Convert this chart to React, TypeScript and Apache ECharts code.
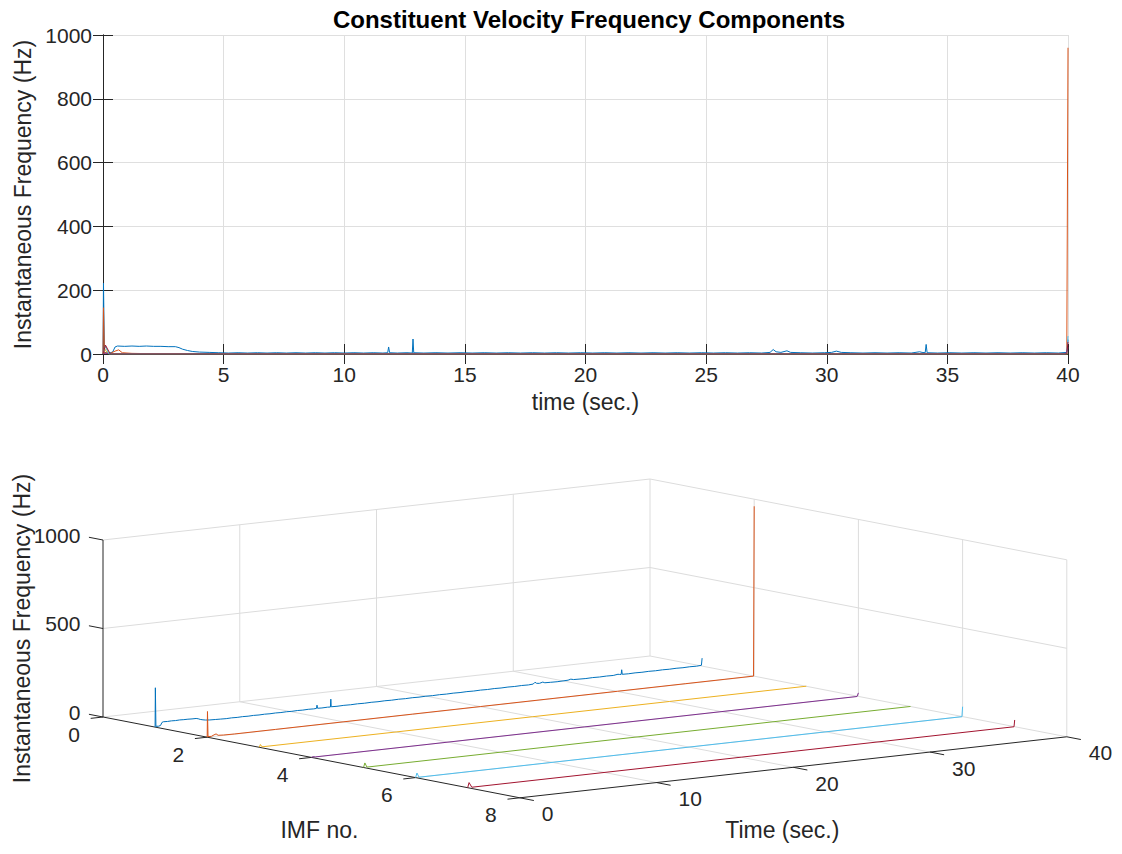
import React, { useEffect, useRef } from "react";
import * as echarts from "echarts";

// ---------------- data ----------------
const IMF_NAMES = ["IMF 1", "IMF 2", "IMF 3", "IMF 4", "IMF 5", "IMF 6", "IMF 7"];
const IMF_NUMBERS = [1, 2, 3, 4, 5, 6, 7];
const IMF_COLORS = ["#0072BD", "#D95319", "#EDB120", "#7E2F8E", "#77AC30", "#4DBEEE", "#A2142F"];

// [time (s), instantaneous frequency (Hz)]
const IMF1: [number, number][] = [
  [0, 0], [0.02, 222], [0.06, 4], [0.25, 3], [0.4, 6], [0.5, 22], [0.6, 25], [0.9, 24], [1.2, 25],
  [1.5, 24], [1.8, 25], [2.1, 24], [2.4, 24], [2.7, 23], [3.0, 23], [3.15, 20], [3.3, 15], [3.5, 11],
  [3.7, 8], [4.0, 6], [4.4, 5], [4.8, 4], [5.2, 3], [5.6, 4], [6.0, 3], [6.4, 4], [6.8, 3], [7.2, 4],
  [7.6, 3], [8.0, 4], [8.4, 3], [8.8, 4], [9.2, 3], [9.6, 4], [10.0, 3], [10.4, 4], [10.8, 3],
  [11.2, 4], [11.6, 3], [11.8, 4], [11.84, 22], [11.88, 4], [12.2, 3], [12.6, 4], [12.82, 3],
  [12.85, 47], [12.88, 4], [13.3, 3], [13.8, 4], [14.3, 3], [14.8, 4], [15.3, 3], [15.8, 4],
  [16.3, 3], [16.8, 4], [17.3, 3], [17.8, 4], [18.3, 3], [18.8, 4], [19.3, 3], [19.8, 4], [20.3, 3],
  [20.8, 4], [21.3, 3], [21.8, 4], [22.3, 3], [22.8, 4], [23.3, 3], [23.8, 4], [24.3, 3], [24.8, 4],
  [25.3, 3], [25.8, 4], [26.3, 3], [26.8, 4], [27.3, 3], [27.65, 5], [27.78, 14], [27.9, 7],
  [28.1, 5], [28.35, 10], [28.5, 5], [28.9, 4], [29.4, 3], [29.9, 4], [30.2, 5], [30.4, 9],
  [30.6, 5], [31.0, 4], [31.5, 3], [32.0, 4], [32.5, 3], [33.0, 4], [33.5, 3], [33.85, 7],
  [33.95, 5], [34.08, 4], [34.12, 30], [34.16, 4], [34.6, 3], [35.1, 4], [35.6, 3], [36.1, 4],
  [36.6, 3], [37.1, 4], [37.6, 3], [38.1, 4], [38.6, 3], [39.1, 4], [39.6, 3], [39.95, 5], [40, 45],
];
const IMF2: [number, number][] = [
  [0, 0], [0.02, 145], [0.06, 3], [0.3, 2], [0.5, 9], [0.65, 13], [0.8, 4], [1.2, 2], [2, 1],
  [5, 1], [10, 1], [15, 1], [20, 1], [25, 1], [30, 1], [35, 1], [39.95, 1], [40, 960],
];
const IMF3: [number, number][] = [
  [0, 0], [0.08, 15], [0.2, 1], [10, 0.5], [20, 0.5], [30, 0.5], [40, 0.5],
];
const IMF4: [number, number][] = [
  [0, 0], [0.1, 3], [0.3, 0.3], [20, 0.3], [39.9, 0.3], [40, 20],
];
const IMF5: [number, number][] = [
  [0, 0], [0.1, 25], [0.25, 0.2], [20, 0.2], [40, 0.2],
];
const IMF6: [number, number][] = [
  [0, 0], [0.1, 25], [0.25, 0.1], [20, 0.1], [39.95, 0.1], [40, 56],
];
const IMF7: [number, number][] = [
  [0, 0], [0.1, 28], [0.3, 0.1], [20, 0.1], [39.95, 0.1], [40, 38],
];
const IMF_DATA = [IMF1, IMF2, IMF3, IMF4, IMF5, IMF6, IMF7];

// 3-D axis ticks
const TIME_TICKS_3D = [0, 10, 20, 30, 40];
const IMF_TICKS_3D = [0, 2, 4, 6, 8];
const FREQ_TICKS_3D = [0, 500, 1000];

// ---------------- style / layout ----------------
const FONT = "'Liberation Sans', Arial, Helvetica, sans-serif";
const AXIS = "#262626";
const GRID = "#DFDFDF";
const GRID3D = "#DCDCDC";
const TICK_FS = 21;
const NAME_FS = 23;

// 3-D projection: back wall (IMF = 0) lives on a hidden cartesian grid (t, z);
// IMF direction and the time shear are oblique offsets in pixels per unit.
const IMF_DX = 52.1;
const IMF_DY = 10.1;
const T_SHEAR = 1.525;

function project(api: any, t: number, m: number, z: number): [number, number] {
  const c = api.coord([t, z]);
  return [c[0] + m * IMF_DX, c[1] + m * IMF_DY - t * T_SHEAR];
}

function frameRender(_params: any, api: any) {
  const tMin = TIME_TICKS_3D[0];
  const tMax = TIME_TICKS_3D[TIME_TICKS_3D.length - 1];
  const mMin = IMF_TICKS_3D[0];
  const mMax = IMF_TICKS_3D[IMF_TICKS_3D.length - 1];
  const zMin = FREQ_TICKS_3D[0];
  const zMax = FREQ_TICKS_3D[FREQ_TICKS_3D.length - 1];
  const P = (t: number, m: number, z: number) => project(api, t, m, z);
  const children: any[] = [];
  const seg = (a: number[], b: number[], stroke: string) =>
    children.push({
      type: "line",
      shape: { x1: a[0], y1: a[1], x2: b[0], y2: b[1] },
      style: { stroke, lineWidth: 1 },
    });
  const txt = (p: number[], dx: number, dy: number, text: string, align: string, fs = TICK_FS, rotation = 0) =>
    children.push({
      type: "text",
      x: p[0] + dx,
      y: p[1] + dy,
      rotation,
      style: { text, fill: AXIS, fontSize: fs, fontFamily: FONT, align, verticalAlign: "middle" },
    });

  const innerT = TIME_TICKS_3D.slice(1, -1);
  const innerM = IMF_TICKS_3D.slice(1, -1);
  const innerZ = FREQ_TICKS_3D.slice(1, -1);

  // floor grid
  innerT.forEach((t) => seg(P(t, mMin, zMin), P(t, mMax, zMin), GRID3D));
  innerM.forEach((m) => seg(P(tMin, m, zMin), P(tMax, m, zMin), GRID3D));
  seg(P(tMin, mMin, zMin), P(tMax, mMin, zMin), GRID3D);
  seg(P(tMax, mMin, zMin), P(tMax, mMax, zMin), GRID3D);
  // back wall (IMF = 0)
  innerT.forEach((t) => seg(P(t, mMin, zMin), P(t, mMin, zMax), GRID3D));
  innerZ.forEach((z) => seg(P(tMin, mMin, z), P(tMax, mMin, z), GRID3D));
  seg(P(tMin, mMin, zMax), P(tMax, mMin, zMax), GRID3D);
  seg(P(tMax, mMin, zMin), P(tMax, mMin, zMax), GRID3D);
  // side wall (t = 40)
  innerM.forEach((m) => seg(P(tMax, m, zMin), P(tMax, m, zMax), GRID3D));
  innerZ.forEach((z) => seg(P(tMax, mMin, z), P(tMax, mMax, z), GRID3D));
  seg(P(tMax, mMin, zMax), P(tMax, mMax, zMax), GRID3D);
  seg(P(tMax, mMax, zMin), P(tMax, mMax, zMax), GRID3D);

  // axes
  seg(P(tMin, mMin, zMin), P(tMin, mMin, zMax), AXIS);
  seg(P(tMin, mMin, zMin), P(tMin, mMax, zMin), AXIS);
  seg(P(tMin, mMax, zMin), P(tMax, mMax, zMin), AXIS);

  // ticks + labels
  FREQ_TICKS_3D.forEach((z) => {
    seg(P(tMin, mMin, z), P(tMin, mMin - 0.27, z), AXIS);
    txt(P(tMin, mMin - 0.3, z), -7, -1.5, String(z), "right");
  });
  IMF_TICKS_3D.forEach((m) => {
    seg(P(tMin, m, zMin), P(tMin - 0.9, m, zMin), AXIS);
    txt(P(tMin, m, zMin), -23, 17, String(m), "right");
  });
  TIME_TICKS_3D.forEach((t) => {
    seg(P(t, mMax, zMin), P(t, mMax + 0.27, zMin), AXIS);
    txt(P(t, mMax, zMin), 22, 16, String(t), "left");
  });

  // axis titles
  txt(P(tMin, (mMin + mMax) / 2, zMin), 8, 73, "IMF no.", "center", NAME_FS);
  txt(P((tMin + tMax) / 2, mMax, zMin), -11, 63, "Time (sec.)", "center", NAME_FS);
  txt(P(tMin, mMin, (zMin + zMax) / 2), -81, 0, "Instantaneous Frequency (Hz)", "center", NAME_FS, Math.PI / 2);

  return { type: "group", children };
}

function imfLineRender(m: number, color: string) {
  return (_params: any, api: any) => {
    const a = project(api, api.value(0), m, api.value(1));
    const b = project(api, api.value(2), m, api.value(3));
    return {
      type: "line",
      shape: { x1: a[0], y1: a[1], x2: b[0], y2: b[1] },
      style: { stroke: color, lineWidth: 1 },
    };
  };
}

function buildOption(): any {
  const topSeries = IMF_DATA.map((d, i) => ({
    name: IMF_NAMES[i],
    type: "line",
    xAxisIndex: 0,
    yAxisIndex: 0,
    data: d,
    showSymbol: false,
    symbol: "none",
    lineStyle: { color: IMF_COLORS[i], width: 1 },
    itemStyle: { color: IMF_COLORS[i] },
    z: 3,
  }));

  const frameSeries = {
    name: "frame",
    type: "custom",
    coordinateSystem: "cartesian2d",
    xAxisIndex: 2,
    yAxisIndex: 2,
    data: [[0, 0]],
    renderItem: frameRender,
    silent: true,
    z: 1,
  };

  const lineSeries3D = IMF_DATA.map((d, i) => ({
    name: IMF_NAMES[i] + " (3D)",
    type: "custom",
    coordinateSystem: "cartesian2d",
    xAxisIndex: 2,
    yAxisIndex: 2,
    data: d.slice(0, -1).map((p, k) => [p[0], p[1], d[k + 1][0], d[k + 1][1]]),
    renderItem: imfLineRender(IMF_NUMBERS[i], IMF_COLORS[i]),
    silent: true,
    clip: false,
    z: 3,
  }));

  const baseAxis = {
    axisLine: { show: true, lineStyle: { color: AXIS, width: 1 } },
    axisTick: { show: true, inside: true, length: 10, lineStyle: { color: AXIS } },
  };
  const plain = (v: number) => String(v);

  return {
    animation: false,
    backgroundColor: "#ffffff",
    textStyle: { fontFamily: FONT },
    graphic: [
      {
        type: "text",
        x: 589,
        y: 19,
        style: {
          text: "Constituent Velocity Frequency Components",
          fill: "#000000",
          fontSize: 24,
          fontWeight: "bold",
          fontFamily: FONT,
          align: "center",
          verticalAlign: "middle",
        },
      },
    ],
    grid: [
      { left: 103, top: 35, width: 965, height: 319 },
      { left: 103, top: 540, width: 547, height: 177 },
    ],
    xAxis: [
      {
        ...baseAxis,
        type: "value",
        gridIndex: 0,
        min: 0,
        max: 40,
        interval: 5,
        position: "bottom",
        name: "time (sec.)",
        nameLocation: "middle",
        nameGap: 36,
        nameTextStyle: { fontSize: NAME_FS, color: AXIS, fontFamily: FONT },
        axisLabel: { fontSize: TICK_FS, color: AXIS, margin: 10, fontFamily: FONT, formatter: plain },
        splitLine: { show: true, lineStyle: { color: GRID, width: 1 } },
      },
      {
        ...baseAxis,
        type: "value",
        gridIndex: 0,
        min: 0,
        max: 40,
        interval: 5,
        position: "top",
        axisLabel: { show: false },
        splitLine: { show: false },
      },
      { type: "value", gridIndex: 1, min: 0, max: 40, show: false },
    ],
    yAxis: [
      {
        ...baseAxis,
        type: "value",
        gridIndex: 0,
        min: 0,
        max: 1000,
        interval: 200,
        position: "left",
        name: "Instantaneous Frequency (Hz)",
        nameLocation: "middle",
        nameGap: 69,
        nameTextStyle: { fontSize: NAME_FS, color: AXIS, fontFamily: FONT },
        axisLabel: { fontSize: TICK_FS, color: AXIS, margin: 11, fontFamily: FONT, formatter: plain },
        splitLine: { show: true, lineStyle: { color: GRID, width: 1 } },
      },
      {
        ...baseAxis,
        type: "value",
        gridIndex: 0,
        min: 0,
        max: 1000,
        interval: 200,
        position: "right",
        axisLabel: { show: false },
        splitLine: { show: false },
      },
      { type: "value", gridIndex: 1, min: 0, max: 1000, show: false },
    ],
    series: [...topSeries, frameSeries, ...lineSeries3D],
  };
}

export default function App() {
  const ref = useRef<HTMLDivElement>(null);
  useEffect(() => {
    if (!ref.current) return;
    const chart = echarts.init(ref.current, undefined, { renderer: "svg" });
    chart.setOption(buildOption());
    return () => chart.dispose();
  }, []);
  return (
    <div
      ref={ref}
      style={{ position: "fixed", left: 0, top: 0, width: 1122, height: 854, background: "#fff" }}
    />
  );
}
